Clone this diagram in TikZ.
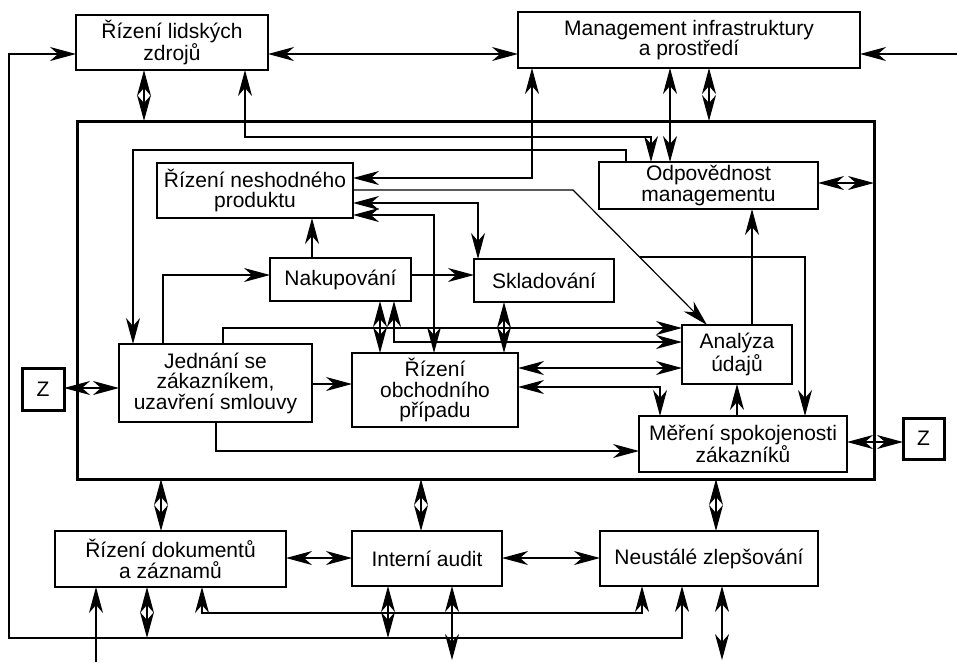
\documentclass[tikz,border=0pt]{standalone}
\usepackage{fontspec}
\setmainfont{Liberation Sans}
\usetikzlibrary{arrows.meta}
\newcommand{\fnt}{\fontsize{21}{20.5}\selectfont}
\tikzset{bigtip/.tip={Stealth[length=26pt 0 0,width=14pt 0 0,inset=8pt 0 0]}}
\begin{document}
\begin{tikzpicture}[x=1pt,y=-1pt,
  box/.style={draw, line width=1.3pt, inner sep=0pt, outer sep=0pt, align=center, font=\fnt},
  zbox/.style={box, line width=3pt},
  framebox/.style={draw, line width=3pt, inner sep=0pt, outer sep=0pt},
  con/.style={line width=1.2pt, -{bigtip}},
  dcon/.style={line width=1.2pt, {bigtip}-{bigtip}}]
\useasboundingbox (0,0) rectangle (957,662);
% boxes
\node[framebox, minimum width=797pt, minimum height=358pt] (fr) at (475.5,300) {};
\node[box, minimum width=192pt, minimum height=55pt] (hr) at (172,42.5) {Řízení lidských\\zdrojů};
\node[box, minimum width=342pt, minimum height=56pt] (mi) at (689,40) {Management infrastruktury\\a prostředí};
\node[box, minimum width=219pt, minimum height=47pt] (odp) at (708.5,185.5) {Odpovědnost\\managementu};
\node[box, minimum width=196pt, minimum height=55pt] (ncp) at (255,190.5) {Řízení neshodného\\produktu};
\node[box, minimum width=141pt, minimum height=43pt] (nak) at (340.5,279.5) {Nakupování};
\node[box, minimum width=140pt, minimum height=43pt] (skl) at (544,280.5) {Skladování};
\node[box, minimum width=193pt, minimum height=78pt] (jed) at (215.5,383) {Jednání se\\zákazníkem,\\uzavření smlouvy};
\node[box, minimum width=166pt, minimum height=74pt] (op) at (435,390) {Řízení\\obchodního\\případu};
\node[box, minimum width=110pt, minimum height=59pt] (ana) at (737,354.5) {Analýza\\údajů};
\node[box, minimum width=208pt, minimum height=56pt] (mer) at (743,444) {Měření spokojenosti\\zákazníků};
\node[zbox, minimum width=42pt, minimum height=42pt] (zl) at (43,389) {Z};
\node[zbox, minimum width=41pt, minimum height=41pt] (zr) at (923.5,438.5) {Z};
\node[box, minimum width=231pt, minimum height=56pt] (doc) at (170.5,559) {Řízení dokumentů\\a záznamů};
\node[box, minimum width=150pt, minimum height=55pt] (aud) at (427,558.5) {Interní audit};
\node[box, minimum width=218pt, minimum height=55pt] (neu) at (709,558.5) {Neustálé zlepšování};
% free ends
\coordinate (eR) at (957,54);
\coordinate (b96) at (96,662);
\coordinate (b452) at (452,660);
\coordinate (b722) at (722,660);
\coordinate (brk) at (639.5,257);
% top connectors
\draw[dcon] (682,0 |- neu.south) -- (682,638) -- (9,638) -- (9,54) -- (hr.west |- 0,54);
\draw[dcon] (hr.east |- 0,54) -- (mi.west |- 0,54);
\draw[con] (eR) -- (mi.east |- eR);
\draw[dcon] (144,0 |- hr.south) -- (144,0 |- fr.north);
\draw[dcon] (709,0 |- mi.south) -- (709,0 |- fr.north);
\draw[dcon] (245,0 |- hr.south) -- (245,137) -- (651,137) -- (651,0 |- odp.north);
\draw[dcon] (670,0 |- mi.south) -- (670,0 |- odp.north);
\draw[dcon] (532,0 |- mi.south) -- (532,178) -- (ncp.east |- 0,178);
\draw[con] (626,0 |- odp.north) -- (626,150) -- (133,150) -- (133,0 |- jed.north);
\draw[dcon] (odp.east |- 0,183) -- (fr.east |- 0,183);
% inner connectors
\draw[con] (ncp.east |- 0,190) -- (573,190) -- (707,0 |- ana.north);
\draw[con] (brk) -- (805,257) -- (805,0 |- mer.north);
\draw[dcon] (ncp.east |- 0,203) -- (478,203) -- (478,0 |- skl.north);
\draw[dcon] (ncp.east |- 0,215) -- (434,215) -- (434,0 |- op.north);
\draw[con] (312,0 |- nak.north) -- (312,0 |- ncp.south);
\draw[con] (163,0 |- jed.north) -- (163,275) -- (nak.west |- 0,275);
\draw[con] (nak.east |- 0,275) -- (skl.west |- 0,275);
\draw[dcon] (380,0 |- nak.south) -- (380,0 |- op.north);
\draw[dcon] (394,0 |- nak.south) -- (394,342) -- (ana.west |- 0,342);
\draw[con] (223,0 |- jed.north) -- (223,328) -- (ana.west |- 0,328);
\draw[dcon] (504,0 |- skl.south) -- (504,0 |- op.north);
\draw[dcon] (zl.east |- 0,388) -- (jed.west |- 0,388);
\draw[con] (jed.east |- 0,384) -- (op.west |- 0,384);
\draw[dcon] (op.east |- 0,368) -- (ana.west |- 0,368);
\draw[dcon] (op.east |- 0,387) -- (660,387) -- (660,0 |- mer.north);
\draw[con] (752,0 |- ana.north) -- (752,0 |- odp.south);
\draw[con] (737,0 |- mer.north) -- (737,0 |- ana.south);
\draw[con] (216,0 |- jed.south) -- (216,451) -- (mer.west |- 0,451);
\draw[dcon] (mer.east |- 0,442) -- (zr.west |- 0,442);
% bottom connectors
\draw[dcon] (161,0 |- fr.south) -- (161,0 |- doc.north);
\draw[dcon] (421,0 |- fr.south) -- (421,0 |- aud.north);
\draw[dcon] (716,0 |- fr.south) -- (716,0 |- neu.north);
\draw[dcon] (doc.east |- 0,558) -- (aud.west |- 0,558);
\draw[dcon] (aud.east |- 0,558) -- (neu.west |- 0,558);
\draw[dcon] (147,0 |- doc.south) -- (147,638);
\draw[dcon] (388,0 |- aud.south) -- (388,638);
\draw[dcon] (202,0 |- doc.south) -- (202,613) -- (642,613) -- (642,0 |- neu.south);
\draw[con] (b96) -- (96,0 |- doc.south);
\draw[dcon] (452,0 |- aud.south) -- (b452);
\draw[dcon] (722,0 |- neu.south) -- (b722);
\end{tikzpicture}
\end{document}
